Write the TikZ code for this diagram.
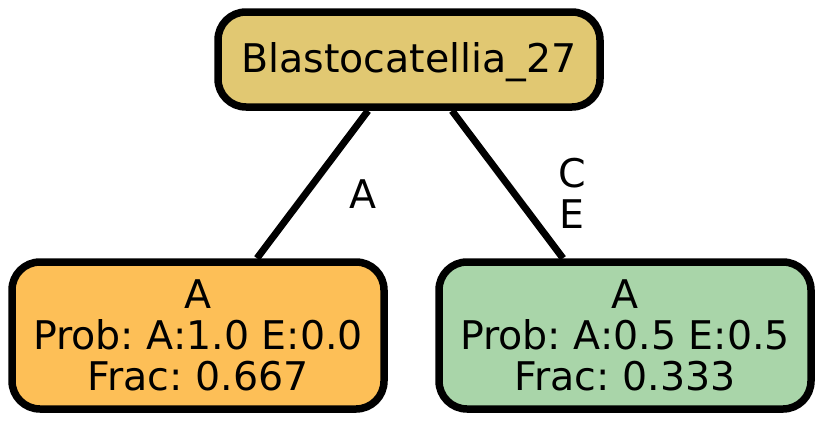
\documentclass[tikz,border=0pt]{standalone}
\usepackage{fontspec}
\setmainfont{DejaVu Sans}
\frenchspacing
\definecolor{topfill}{HTML}{E1C872}
\definecolor{leftfill}{HTML}{FDBF57}
\definecolor{rightfill}{HTML}{A9D5A9}
\tikzset{
  treenode/.style={draw=black, line width=7.5pt, rounded corners=28pt, inner sep=0pt, align=center,
    font=\frenchspacing\fontsize{39.5}{41}\selectfont},
  edgeline/.style={draw=black, line width=7pt},
  edgelabel/.style={inner sep=0pt, align=center, font=\fontsize{39.5}{41}\selectfont}
}
\begin{document}
\begin{tikzpicture}[x=1pt,y=-1pt]
\useasboundingbox (0,0) rectangle (822,421);
\node[treenode, fill=topfill, minimum width=382pt, minimum height=95pt, text height=25pt, text depth=0pt] (top) at (409,59.5) {Blastocatellia\_27};
\node[treenode, fill=leftfill, minimum width=372pt, minimum height=147pt] (left) at (198,335.5) {A\\Prob: A:1.0 E:0.0\\Frac: 0.667};
\node[treenode, fill=rightfill, minimum width=372pt, minimum height=147pt] (right) at (625,335.5) {A\\Prob: A:0.5 E:0.5\\Frac: 0.333};
\draw[edgeline] ([xshift=-41pt]top.south) -- ([xshift=59pt]left.north);
\draw[edgeline] ([xshift=43pt]top.south) -- ([xshift=-62pt]right.north);
\node[edgelabel, anchor=base] (la) at (363,208) {A};
\node[edgelabel] (lb) at (572,193.5) {C\\E};
\end{tikzpicture}
\end{document}
